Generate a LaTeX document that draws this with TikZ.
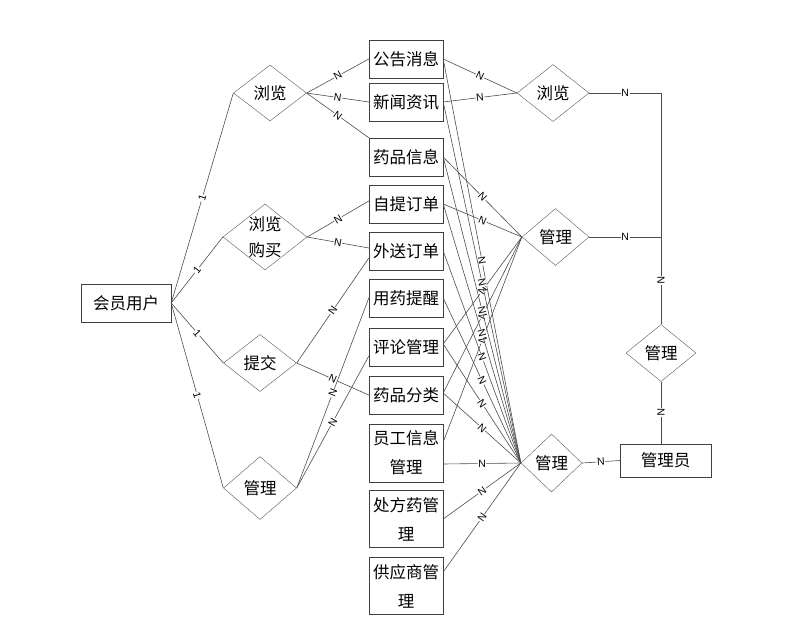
\documentclass[tikz,border=0pt]{standalone}
\usepackage{fontspec}
\newfontfamily\cjkfont{Noto Sans CJK SC}
\newfontfamily\labfont{Liberation Sans}
\usetikzlibrary{shapes.geometric}

\begin{document}
\begin{tikzpicture}[x=1pt, y=-1pt,
    entity/.style={draw=black!75, rectangle, minimum width=74pt, minimum height=38pt,
        inner sep=0pt, align=center, font=\cjkfont\fontsize{16.5}{29}\selectfont},
    relation/.style={draw=black!65, diamond, inner sep=-5pt, align=center,
        font=\cjkfont\fontsize{16.5}{26}\selectfont},
    link/.style={draw=black!70, line width=0.6pt},
    card/.style={sloped, fill=white, inner sep=0.6pt, font=\labfont\fontsize{10.5}{11}\selectfont}]
    \useasboundingbox (0,0) rectangle (791,627);

    % Member user and its relations
    \node[entity, minimum width=90pt] (member) at (126,303) {会员用户};
    \node[relation, minimum width=73pt, minimum height=56pt] (browseL) at (270,93) {浏览};
    \node[relation, minimum width=84pt, minimum height=66pt] (buyL) at (265,237) {浏览\\购买};
    \node[relation, minimum width=73pt, minimum height=57pt] (submitL) at (260,363) {提交};
    \node[relation, minimum width=73pt, minimum height=63pt] (manageL) at (260,488) {管理};

    % Entities in the middle column
    \node[entity] (notice) at (406,59) {公告消息};
    \node[entity] (news) at (406,102) {新闻资讯};
    \node[entity] (druginfo) at (406,157) {药品信息};
    \node[entity] (pickup) at (406,204) {自提订单};
    \node[entity] (delivery) at (406,251) {外送订单};
    \node[entity] (remind) at (406,298) {用药提醒};
    \node[entity] (comment) at (406,347) {评论管理};
    \node[entity] (category) at (406,395) {药品分类};
    \node[entity, minimum height=58pt] (staff) at (406,453) {员工信息\\管理};
    \node[entity, minimum height=57pt] (rx) at (406,519) {处方药管\\理};
    \node[entity, minimum height=57pt] (supplier) at (406,586) {供应商管\\理};

    % Admin side
    \node[relation, minimum width=72pt, minimum height=57pt] (browseR) at (553,93) {浏览};
    \node[relation, minimum width=67pt, minimum height=57pt] (manageM) at (555.5,237) {管理};
    \node[relation, minimum width=61pt, minimum height=58pt] (manageB) at (551.5,463) {管理};
    \node[relation, minimum width=70pt, minimum height=57pt] (manageV) at (661,353) {管理};
    \node[entity, minimum width=91pt, minimum height=33pt] (admin) at (665.5,460.5) {管理员};
    \coordinate (jtop) at (661,93);
    \coordinate (jmid) at (661,237);

    % Member to its relations
    \draw[link] (member.east) -- node[card] {1} (browseL.west);
    \draw[link] (member.east) -- node[card] {1} (buyL.west);
    \draw[link] (member.east) -- node[card] {1} (submitL.west);
    \draw[link] (member.east) -- node[card] {1} (manageL.west);

    % Member relations to entities
    \draw[link] (browseL.east) -- node[card] {N} (notice.west);
    \draw[link] (browseL.east) -- node[card] {N} (news.west);
    \draw[link] (browseL.east) -- node[card] {N} (druginfo.north west);
    \draw[link] (buyL.east) -- node[card] {N} ([yshift=3pt]pickup.west);
    \draw[link] (buyL.east) -- node[card] {N} ([yshift=3pt]delivery.west);
    \draw[link] (submitL.east) -- node[card] {N} ([yshift=-7pt]delivery.west);
    \draw[link] (submitL.east) -- node[card] {N} (category.west);
    \draw[link] (manageL.east) -- node[card] {N} (remind.west);
    \draw[link] (manageL.east) -- node[card] {N} ([yshift=-9pt]comment.west);

    % Entities to admin browse
    \draw[link] (notice.east) -- node[card] {N} (browseR.west);
    \draw[link] (news.east) -- node[card] {N} (browseR.west);

    % Entities to middle manage
    \draw[link] (druginfo.east) -- node[card] {N} (manageM.west);
    \draw[link] (pickup.east) -- node[card] {N} (manageM.west);
    \draw[link] ([yshift=3pt]comment.east) -- node[card] {N} (manageM.west);
    \draw[link] ([yshift=2pt]category.east) -- node[card] {N} (manageM.west);
    \draw[link] ([yshift=11pt]staff.east) -- node[card] {N} (manageM.west);

    % Entities to bottom manage
    \draw[link] (notice.east) -- node[card] {N} (manageB.west);
    \draw[link] (news.east) -- node[card] {N} (manageB.west);
    \draw[link] (druginfo.east) -- node[card] {N} (manageB.west);
    \draw[link] (pickup.east) -- node[card] {N} (manageB.west);
    \draw[link] (delivery.east) -- node[card] {N} (manageB.west);
    \draw[link] (remind.east) -- node[card] {N} (manageB.west);
    \draw[link] ([yshift=3pt]comment.east) -- node[card] {N} (manageB.west);
    \draw[link] ([yshift=2pt]category.east) -- node[card] {N} (manageB.west);
    \draw[link] ([yshift=-11pt]staff.east) -- node[card] {N} (manageB.west);
    \draw[link] (rx.east) -- node[card] {N} (manageB.west);
    \draw[link] ([yshift=14pt]supplier.east) -- node[card] {N} (manageB.west);

    % Admin relations
    \draw[link] (browseR.east) -- node[card] {N} (jtop) -- (jmid);
    \draw[link] (manageM.east) -- node[card] {N} (jmid);
    \draw[link] (jmid) -- node[card] {N} (manageV.north);
    \draw[link] (manageV.south) -- node[card] {N} (manageV.south |- admin.north);
    \draw[link] (manageB.east) -- node[card] {N} (admin.west);
\end{tikzpicture}
\end{document}
